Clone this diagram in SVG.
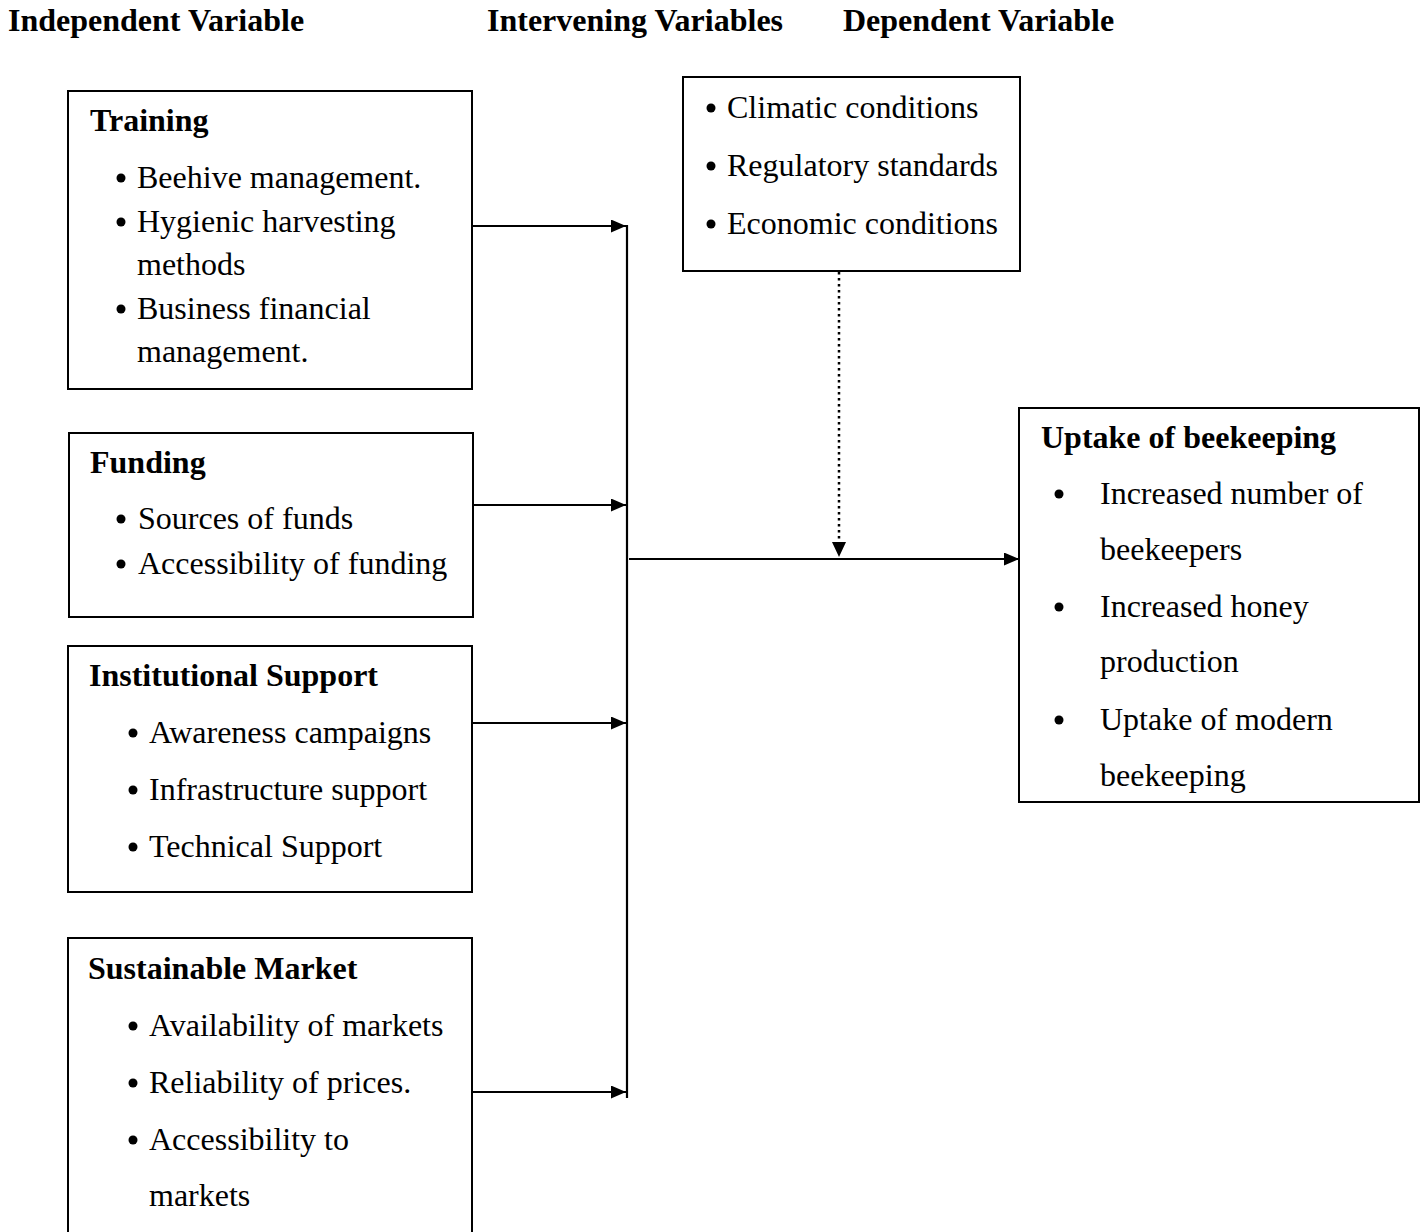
<svg xmlns="http://www.w3.org/2000/svg" width="1426" height="1232" viewBox="0 0 1426 1232">
<defs>
<style>
text{font-family:"Liberation Serif","Times New Roman",serif;fill:#000}
.h{font-size:32px;font-weight:bold}
.t{font-size:32px;font-weight:bold}
.b{font-size:32px}
.box{fill:#fff;stroke:#000;stroke-width:2}
.ln{stroke:#000;stroke-width:2.2;fill:none}
.dot{stroke:#000;stroke-width:2.5;fill:none;stroke-dasharray:2.5 3.5}
</style>
<marker id="ah" markerWidth="15" markerHeight="13" refX="15" refY="6.5" orient="auto" markerUnits="userSpaceOnUse">
<path d="M0,0 L15,6.5 L0,13 Z" fill="#000"/>
</marker>
</defs>
<rect width="1426" height="1232" fill="#fff"/>
<g id="headers">
<text class="h" x="8" y="31">Independent Variable</text>
<text class="h" x="487" y="31">Intervening Variables</text>
<text class="h" x="843" y="31">Dependent Variable</text>
</g>
<g id="connectors">
<line class="ln" x1="472" y1="226" x2="626" y2="226" marker-end="url(#ah)"/>
<line class="ln" x1="473" y1="505" x2="626" y2="505" marker-end="url(#ah)"/>
<line class="ln" x1="472" y1="723" x2="626" y2="723" marker-end="url(#ah)"/>
<line class="ln" x1="472" y1="1092" x2="626" y2="1092" marker-end="url(#ah)"/>
<line class="ln" x1="627" y1="225" x2="627" y2="1098"/>
<line class="ln" x1="629" y1="559" x2="1019" y2="559" marker-end="url(#ah)"/>
<line class="dot" x1="839" y1="272" x2="839" y2="543"/>
<path d="M832,542 L846,542 L839,557 Z" fill="#000"/>
</g>
<g id="training">
<rect class="box" x="68" y="91" width="404" height="298"/>
<text class="t" x="90" y="131">Training</text>
<circle cx="121" cy="178" r="4.5"/>
<circle cx="121" cy="222" r="4.5"/>
<circle cx="121" cy="309" r="4.5"/>
<text class="b" x="137" y="188">Beehive management.</text>
<text class="b" x="137" y="232">Hygienic harvesting</text>
<text class="b" x="137" y="275">methods</text>
<text class="b" x="137" y="319">Business financial</text>
<text class="b" x="137" y="362">management.</text>
</g>
<g id="funding">
<rect class="box" x="69" y="433" width="404" height="184"/>
<text class="t" x="90" y="473">Funding</text>
<circle cx="121" cy="519" r="4.5"/>
<circle cx="121" cy="564" r="4.5"/>
<text class="b" x="138" y="529">Sources of funds</text>
<text class="b" x="138" y="574">Accessibility of funding</text>
</g>
<g id="institutional">
<rect class="box" x="68" y="646" width="404" height="246"/>
<text class="t" x="89" y="686">Institutional Support</text>
<circle cx="133" cy="733" r="4.5"/>
<circle cx="133" cy="790" r="4.5"/>
<circle cx="133" cy="847" r="4.5"/>
<text class="b" x="149" y="743">Awareness campaigns</text>
<text class="b" x="149" y="800">Infrastructure support</text>
<text class="b" x="149" y="857">Technical Support</text>
</g>
<g id="market">
<rect class="box" x="68" y="938" width="404" height="310"/>
<text class="t" x="88" y="979">Sustainable Market</text>
<circle cx="133" cy="1026" r="4.5"/>
<circle cx="133" cy="1083" r="4.5"/>
<circle cx="133" cy="1140" r="4.5"/>
<text class="b" x="149" y="1036">Availability of markets</text>
<text class="b" x="149" y="1093">Reliability of prices.</text>
<text class="b" x="149" y="1150">Accessibility to</text>
<text class="b" x="149" y="1206">markets</text>
</g>
<g id="intervening">
<rect class="box" x="683" y="77" width="337" height="194"/>
<circle cx="711" cy="108" r="4.5"/>
<circle cx="711" cy="166" r="4.5"/>
<circle cx="711" cy="224" r="4.5"/>
<text class="b" x="727" y="118">Climatic conditions</text>
<text class="b" x="727" y="176">Regulatory standards</text>
<text class="b" x="727" y="234">Economic conditions</text>
</g>
<g id="dependent">
<rect class="box" x="1019" y="408" width="400" height="394"/>
<text class="t" x="1041" y="448">Uptake of beekeeping</text>
<circle cx="1059" cy="494" r="4.5"/>
<circle cx="1059" cy="607" r="4.5"/>
<circle cx="1059" cy="720" r="4.5"/>
<text class="b" x="1100" y="504">Increased number of</text>
<text class="b" x="1100" y="560">beekeepers</text>
<text class="b" x="1100" y="617">Increased honey</text>
<text class="b" x="1100" y="672">production</text>
<text class="b" x="1100" y="730">Uptake of modern</text>
<text class="b" x="1100" y="786">beekeeping</text>
</g>
</svg>
